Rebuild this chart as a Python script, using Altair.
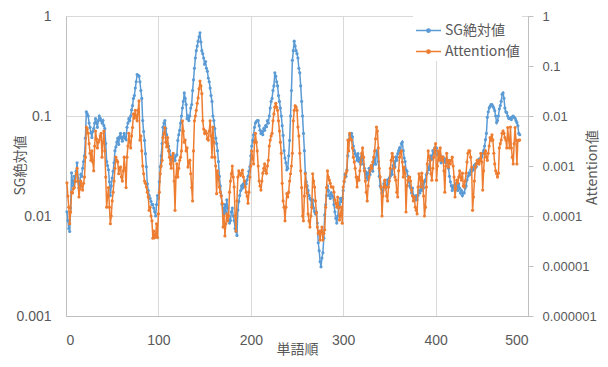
import altair as alt
import pandas as pd

# ---------------- data ----------------
word_index = list(range(1, 492))

sg_abs = [
    0.011, 0.009, 0.0075, 0.007, 0.012, 0.027, 0.022, 0.02, 0.025, 0.022,
    0.028, 0.034, 0.024, 0.019, 0.022, 0.026, 0.025, 0.03, 0.035, 0.04,
    0.06, 0.11, 0.105, 0.1, 0.085, 0.077, 0.068, 0.061, 0.07, 0.075,
    0.085, 0.094, 0.085, 0.077, 0.09, 0.1, 0.095, 0.09, 0.085, 0.09,
    0.08, 0.075, 0.053, 0.035, 0.032, 0.029, 0.022, 0.016, 0.02, 0.024,
    0.028, 0.034, 0.045, 0.049, 0.055, 0.06, 0.052, 0.062, 0.067, 0.06,
    0.056, 0.062, 0.067, 0.06, 0.058, 0.077, 0.085, 0.094, 0.09, 0.1,
    0.115, 0.127, 0.15, 0.16, 0.19, 0.22, 0.26, 0.255, 0.25, 0.22,
    0.18, 0.15, 0.09, 0.07, 0.057, 0.042, 0.031, 0.021, 0.018, 0.016,
    0.015, 0.014, 0.013, 0.013, 0.012, 0.011, 0.01, 0.013, 0.016, 0.015,
    0.022, 0.031, 0.04, 0.053, 0.077, 0.085, 0.09, 0.075, 0.065, 0.053,
    0.05, 0.045, 0.04, 0.036, 0.038, 0.041, 0.038, 0.036, 0.04, 0.041,
    0.057, 0.065, 0.072, 0.085, 0.1, 0.12, 0.14, 0.17, 0.15, 0.13,
    0.094, 0.1, 0.09, 0.1, 0.12, 0.13, 0.18, 0.23, 0.3, 0.38,
    0.45, 0.5, 0.56, 0.62, 0.68, 0.55, 0.45, 0.42, 0.38, 0.33,
    0.35, 0.3, 0.28, 0.24, 0.22, 0.19, 0.16, 0.14, 0.1, 0.09,
    0.075, 0.06, 0.053, 0.045, 0.035, 0.025, 0.02, 0.016, 0.013, 0.012,
    0.0105, 0.013, 0.011, 0.0145, 0.012, 0.01, 0.0085, 0.009, 0.011, 0.012,
    0.01, 0.009, 0.0075, 0.007, 0.0064, 0.0115, 0.014, 0.016, 0.018, 0.02,
    0.019, 0.021, 0.02, 0.022, 0.021, 0.023, 0.025, 0.028, 0.031, 0.04,
    0.05, 0.057, 0.065, 0.077, 0.085, 0.088, 0.09, 0.09, 0.08, 0.072,
    0.067, 0.07, 0.065, 0.075, 0.072, 0.08, 0.078, 0.09, 0.085, 0.1,
    0.12, 0.14, 0.15, 0.18, 0.2, 0.27, 0.25, 0.22, 0.2, 0.16,
    0.14, 0.12, 0.1, 0.08, 0.064, 0.045, 0.038, 0.034, 0.029, 0.03,
    0.04, 0.057, 0.1, 0.18, 0.36, 0.45, 0.56, 0.5, 0.45, 0.42,
    0.38, 0.3, 0.27, 0.2, 0.14, 0.1, 0.067, 0.045, 0.027, 0.022,
    0.02, 0.018, 0.016, 0.015, 0.0145, 0.013, 0.0145, 0.012, 0.011, 0.0105,
    0.011, 0.0085, 0.0054, 0.0045, 0.0035, 0.0031, 0.0038, 0.0043, 0.006, 0.0103,
    0.013, 0.016, 0.02, 0.018, 0.016, 0.015, 0.017, 0.016, 0.0155, 0.013,
    0.011, 0.0095, 0.0085, 0.01, 0.012, 0.013, 0.015, 0.014, 0.015, 0.018,
    0.022, 0.026, 0.025, 0.029, 0.04, 0.057, 0.065, 0.06, 0.067, 0.062,
    0.05, 0.045, 0.042, 0.04, 0.036, 0.042, 0.035, 0.038, 0.033, 0.04,
    0.036, 0.033, 0.03, 0.028, 0.024, 0.027, 0.023, 0.03, 0.026, 0.03,
    0.032, 0.028, 0.035, 0.038, 0.033, 0.045, 0.042, 0.035, 0.025, 0.02,
    0.019, 0.017, 0.018, 0.021, 0.022, 0.019, 0.02, 0.023, 0.021, 0.024,
    0.025, 0.029, 0.026, 0.032, 0.035, 0.031, 0.039, 0.036, 0.042, 0.045,
    0.048, 0.044, 0.053, 0.055, 0.045, 0.038, 0.035, 0.029, 0.028, 0.025,
    0.022, 0.02, 0.019, 0.017, 0.019, 0.016, 0.015, 0.0145, 0.016, 0.0145,
    0.016, 0.018, 0.017, 0.02, 0.018, 0.021, 0.019, 0.022, 0.023, 0.026,
    0.027, 0.031, 0.029, 0.036, 0.04, 0.037, 0.045, 0.042, 0.048, 0.045,
    0.048, 0.041, 0.042, 0.038, 0.04, 0.034, 0.036, 0.039, 0.035, 0.037,
    0.034, 0.037, 0.036, 0.03, 0.025, 0.022, 0.02, 0.018, 0.02, 0.019,
    0.019, 0.021, 0.02, 0.018, 0.021, 0.019, 0.017, 0.018, 0.016, 0.017,
    0.017, 0.019, 0.02, 0.023, 0.025, 0.027, 0.026, 0.029, 0.028, 0.03,
    0.029, 0.032, 0.033, 0.031, 0.034, 0.035, 0.037, 0.036, 0.038, 0.039,
    0.042, 0.045, 0.05, 0.058, 0.067, 0.097, 0.11, 0.12, 0.125, 0.13,
    0.13, 0.125, 0.12, 0.113, 0.1, 0.086, 0.09, 0.1, 0.118, 0.127,
    0.14, 0.165, 0.17, 0.15, 0.12, 0.11, 0.108, 0.1, 0.095, 0.094,
    0.096, 0.092, 0.098, 0.1, 0.097, 0.095, 0.09, 0.086, 0.08, 0.067,
    0.065,
]

attention = [
    4.6e-4, 2.5e-4, 1.5e-4, 7e-5, 1.2e-4, 3e-4, 2.9e-4, 3.5e-4, 3.7e-4, 5e-4,
    7e-4, 9e-4, 5e-4, 2.4e-4, 3.5e-4, 5e-4, 4e-4, 3.3e-4, 4.5e-4, 6e-4,
    1.5e-3, 6e-3, 5.5e-3, 4.5e-3, 2.8e-3, 1.8e-3, 1.3e-3, 2e-3, 1.2e-3, 8e-4,
    2.5e-3, 5e-3, 3.5e-3, 2.3e-3, 3e-3, 3.3e-3, 4e-3, 4.5e-3, 1.5e-3, 3e-3,
    5e-3, 2e-3, 6e-4, 1.5e-4, 2.5e-4, 3.7e-4, 1.5e-4, 7e-5, 1e-4, 2e-4,
    3e-4, 5e-4, 9e-4, 1.5e-3, 1.3e-3, 1.2e-3, 7e-4, 9e-4, 9.5e-4, 6e-4,
    5e-4, 8e-4, 1.5e-3, 9e-4, 3.7e-4, 1.5e-3, 2.5e-3, 4.5e-3, 3e-3, 2.3e-3,
    4e-3, 5.9e-3, 1.1e-2, 9e-3, 1.3e-2, 1e-2, 8e-3, 1.3e-2, 2e-2, 3.3e-3,
    4e-3, 2e-3, 1e-3, 7e-4, 5e-4, 4.5e-4, 3.8e-4, 3e-4, 2.4e-4, 1.3e-4,
    1.5e-4, 1e-4, 8e-5, 3.6e-5, 5e-5, 3.7e-5, 4e-5, 7e-5, 3.7e-5, 1.1e-4,
    3e-4, 7e-4, 1e-3, 1.3e-3, 3.7e-3, 4.5e-3, 5.9e-3, 3e-3, 2.4e-3, 3.7e-3,
    2e-3, 1.5e-3, 1.1e-3, 9e-4, 1.5e-3, 1.8e-3, 5e-4, 1.3e-4, 6e-4, 1.1e-3,
    6e-4, 9e-4, 1.3e-3, 1.5e-3, 2e-3, 8e-3, 5e-3, 3e-3, 3.3e-3, 2e-3,
    2.3e-3, 9.5e-4, 1.2e-3, 1.3e-3, 7e-4, 3.7e-4, 2e-4, 2e-3, 8e-3, 1e-2,
    1.3e-2, 1.8e-2, 2.3e-2, 3.5e-2, 5e-2, 4e-2, 2.8e-2, 8e-3, 5.5e-3, 4.5e-3,
    5e-3, 4.5e-3, 3.5e-3, 3.3e-3, 5e-3, 8e-3, 4e-3, 1.5e-3, 6e-3, 3e-3,
    1.5e-3, 1e-3, 2.8e-4, 8e-4, 6e-4, 3.8e-4, 3e-4, 2.5e-4, 1.8e-4, 6e-5,
    1e-4, 4e-5, 7e-5, 1.1e-4, 8e-5, 1e-4, 3e-4, 5e-4, 7e-4, 1e-3,
    6e-4, 3.8e-4, 1e-4, 5e-5, 2e-4, 6e-4, 8e-4, 7e-4, 6.5e-4, 7.2e-4,
    8.3e-4, 6e-4, 5e-4, 3.8e-4, 3e-4, 2.5e-4, 1.8e-4, 3e-4, 6e-4, 1e-3,
    2e-3, 1.4e-3, 1.1e-3, 3e-3, 4.5e-3, 3e-3, 2e-3, 1e-3, 5e-4, 4e-4,
    3.3e-4, 5e-4, 7.2e-4, 9e-4, 1.1e-3, 8e-4, 7.2e-4, 1e-3, 1.3e-3, 2.5e-3,
    3.3e-3, 4e-3, 4.5e-3, 8e-3, 1.1e-2, 1.5e-2, 1.8e-2, 1.5e-2, 1.3e-2, 8e-3,
    5e-3, 3e-3, 1.8e-3, 4.5e-4, 2e-4, 1.5e-4, 8e-5, 1.5e-4, 2.8e-4, 2.4e-4,
    3e-4, 5e-4, 7e-4, 1e-3, 1.8e-3, 8e-3, 1.3e-2, 1.6e-2, 1.5e-2, 1.3e-2,
    6e-3, 4e-3, 1.8e-3, 8e-4, 3.7e-4, 1e-4, 8e-5, 2.5e-4, 7e-4, 4e-4,
    2.9e-4, 1.1e-4, 8e-5, 6e-5, 1e-4, 1.5e-4, 7e-4, 5e-4, 3.8e-4, 2e-4,
    1.15e-4, 6e-5, 4.5e-5, 5e-5, 3.3e-5, 5e-5, 6e-5, 3.3e-5, 4.5e-5, 5.3e-5,
    1.5e-4, 3.7e-4, 8e-4, 6e-4, 5.2e-4, 4.5e-4, 3.8e-4, 3.8e-4, 3.8e-4, 3e-4,
    2.1e-4, 1.8e-4, 1.5e-4, 2.4e-4, 1.5e-4, 8.3e-5, 1e-4, 1.5e-4, 7.2e-5, 3.8e-4,
    5e-4, 6e-4, 7.2e-4, 8e-4, 3.3e-3, 2e-3, 4.5e-3, 3.5e-3, 3.3e-3, 2.3e-3,
    1.5e-3, 1.2e-3, 9e-4, 6e-4, 3.8e-4, 6e-4, 5.2e-4, 8e-4, 1.2e-3, 1.8e-3,
    2.3e-3, 1.5e-3, 8e-4, 5e-4, 3e-4, 2e-4, 4e-4, 6e-4, 8e-4, 1e-3,
    9e-4, 1.2e-3, 1.5e-3, 2e-3, 3.5e-3, 6e-3, 5e-3, 2.3e-3, 9e-4, 6e-4,
    3.8e-4, 1e-4, 2.5e-4, 3.8e-4, 5.2e-4, 3.8e-4, 2.5e-4, 2e-4, 3.8e-4, 5e-4,
    9e-4, 1.3e-3, 1.8e-3, 1.5e-3, 9e-4, 6e-4, 5.2e-4, 3e-4, 2.4e-4, 8e-4,
    1.5e-3, 1.8e-3, 2e-3, 1.2e-3, 6e-4, 9.5e-4, 7e-4, 1.2e-4, 4e-4, 5.2e-4,
    6e-4, 6e-4, 5e-4, 3.3e-4, 2.5e-4, 2e-4, 2.4e-4, 1.5e-4, 1.3e-4, 1.1e-4,
    3.8e-4, 7e-4, 6e-4, 3.8e-4, 7.2e-4, 5e-4, 2.5e-4, 1e-4, 1.5e-4, 3.8e-4,
    1.1e-3, 2e-3, 1.5e-3, 1.3e-3, 7e-4, 5.2e-4, 9e-4, 1.5e-3, 2.2e-3, 2.8e-3,
    5.2e-4, 1e-3, 2e-3, 1.3e-3, 2.3e-3, 1.5e-3, 1.3e-3, 1.5e-3, 8e-4, 3e-4,
    1e-3, 1.8e-3, 1.2e-3, 9.5e-4, 1.3e-3, 1.1e-3, 1.3e-3, 1.5e-3, 1e-3, 6e-4,
    2.4e-4, 3.5e-4, 5.2e-4, 4.6e-4, 6e-4, 8e-4, 6e-4, 5.2e-4, 7.2e-4, 4e-4,
    3.8e-4, 5e-4, 7.2e-4, 1.2e-3, 1.8e-3, 2e-3, 2e-3, 1.5e-3, 9.5e-4, 1.3e-4,
    2.4e-4, 5e-4, 9.5e-4, 1.1e-3, 1.3e-3, 1.2e-3, 1.1e-3, 1.3e-3, 1.8e-3, 1.2e-3,
    3.3e-4, 8e-4, 1.8e-3, 2e-3, 1.5e-3, 1.3e-3, 1.8e-3, 2.5e-3, 3.7e-3, 3.3e-3,
    4.2e-3, 3.3e-3, 1.8e-3, 1.1e-3, 8e-4, 7e-4, 6e-4, 7.2e-4, 2.3e-3, 2.8e-3,
    3.3e-3, 4.5e-3, 5e-3, 4.5e-3, 3.7e-3, 3.3e-3, 2.3e-3, 5.9e-3, 3.5e-3, 2.3e-3,
    6e-3, 2.3e-3, 1.5e-3, 1.1e-3, 2.8e-3, 5.9e-3, 3.3e-3, 1.1e-3, 3.2e-3, 3.3e-3,
    3.3e-3,
]

series_names = ["SG絶対値", "Attention値"]
series_colors = ["#5B9BD5", "#ED7D31"]
x_ticks = [0, 100, 200, 300, 400, 500]
left_ticks = [0.001, 0.01, 0.1, 1]
right_ticks = [0.000001, 0.00001, 0.0001, 0.001, 0.01, 0.1, 1]

df_sg = pd.DataFrame({"x": word_index, "v": sg_abs, "s": series_names[0]})
df_at = pd.DataFrame({"x": word_index, "v": attention, "s": series_names[1]})

FONT = "Noto Sans CJK JP"
NUMFONT = "Liberation Sans"
TXT = "#595959"
GRID = "#d9d9d9"
AXL = "#bfbfbf"

x_enc = alt.X(
    "x:Q",
    scale=alt.Scale(domain=[0, 500], nice=False),
    axis=alt.Axis(
        values=x_ticks, title="単語順", grid=True, gridColor=GRID,
        ticks=False, tickSize=0, domainColor=AXL, labelPadding=17,
        labelFont=NUMFONT, labelFontSize=14, labelColor=TXT,
        titleFont=FONT, titleFontSize=14, titleColor=TXT, titleFontWeight="normal",
        titleY=33, titleBaseline="middle",
    ),
)

legend_symbol = "M-1,0L1,0M-0.13,0a0.13,0.13 0 1,0 0.26,0a0.13,0.13 0 1,0 -0.26,0"
color_enc = alt.Color(
    "s:N",
    scale=alt.Scale(domain=series_names, range=series_colors),
    legend=alt.Legend(
        title=None, orient="none", legendX=347, legendY=-1, padding=2,
        fillColor="white", symbolType=legend_symbol, symbolSize=625,
        symbolStrokeWidth=1.5, labelFont=FONT, labelFontSize=14,
        labelColor=TXT, labelOffset=3, rowPadding=0,
    ),
)

blue = alt.Chart(df_sg).mark_line(
    strokeWidth=1.5, point=alt.OverlayMarkDef(filled=True, size=10)
).encode(
    x=x_enc,
    y=alt.Y(
        "v:Q",
        scale=alt.Scale(type="log", domain=[0.001, 1], nice=False),
        axis=alt.Axis(
            orient="left", values=left_ticks, format=".6~f", grid=True,
            gridColor=GRID, ticks=False, tickSize=0, domainColor=AXL,
            labelPadding=15, labelFont=NUMFONT, labelFontSize=14, labelColor=TXT,
            title="SG絶対値", titleFont=FONT, titleFontSize=14, titleColor=TXT,
            titleFontWeight="normal", titleAngle=270, titleX=-46, titleY=149,
            titleAlign="center", titleBaseline="middle",
        ),
    ),
    color=color_enc,
)

orange = alt.Chart(df_at).mark_line(
    strokeWidth=1.5, point=alt.OverlayMarkDef(filled=True, size=10)
).encode(
    x=x_enc,
    y=alt.Y(
        "v:Q",
        scale=alt.Scale(type="log", domain=[0.000001, 1], nice=False),
        axis=alt.Axis(
            orient="right", values=right_ticks, format=".6~f", grid=False,
            ticks=True, tickSize=5, tickColor=AXL, domainColor=AXL,
            labelPadding=9, labelFont=NUMFONT, labelFontSize=13, labelColor=TXT,
            title="Attention値", titleFont=FONT, titleFontSize=14, titleColor=TXT,
            titleFontWeight="normal", titleAngle=270, titleX=64, titleY=151,
            titleAlign="center", titleBaseline="middle",
        ),
    ),
    color=color_enc,
)

chart = (
    alt.layer(blue, orange)
    .resolve_scale(y="independent")
    .properties(
        width=462, height=300,
        padding={"left": 58, "top": 8, "right": 72, "bottom": 43},
        autosize=alt.AutoSizeParams(type="none"),
    )
    .configure_view(stroke=None)
)

chart.save("out.html", embed_options={"renderer": "svg", "actions": False})
